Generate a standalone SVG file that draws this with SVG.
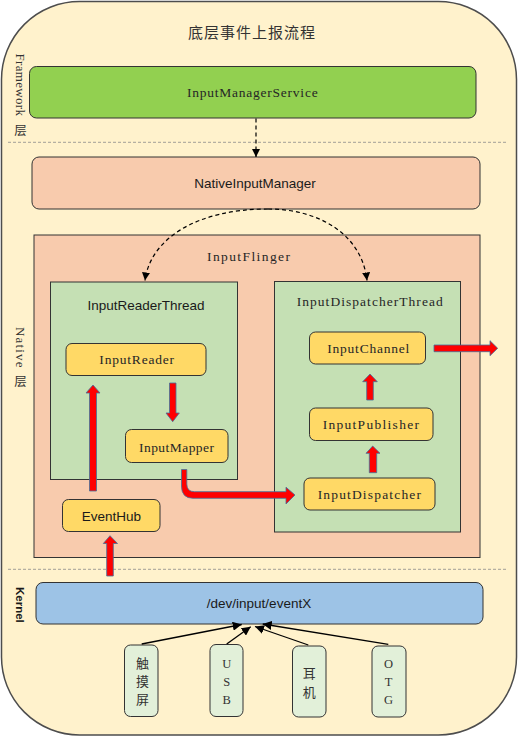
<svg xmlns="http://www.w3.org/2000/svg" width="519" height="739" viewBox="0 0 519 739">
<style>
.box{stroke:#333;stroke-width:1}
.mono{font-family:"Liberation Serif","Times New Roman",serif;font-size:13.5px;fill:#262626;text-anchor:middle}
.sans{font-family:"Liberation Sans",Arial,sans-serif;font-size:13.5px;fill:#1a1a1a;text-anchor:middle}
.cjk{font-family:"Noto Sans CJK SC","Noto Sans",sans-serif;fill:#333;text-anchor:middle}
.ser{font-family:"Liberation Serif","Noto Sans CJK SC",serif;font-size:12.5px;fill:#333;text-anchor:middle}
.sep{stroke:#8c8c8c;stroke-width:0.8;stroke-dasharray:3 2;fill:none}
.dash{stroke:#000;stroke-width:1.2;stroke-dasharray:4 3;fill:none}
.red{fill:#ff0000;stroke:#41719c;stroke-width:0.8}
.line{stroke:#000;stroke-width:1.3;fill:none}
</style>
<defs>
<marker id="ah" viewBox="0 0 10 10" refX="10" refY="5" markerWidth="8" markerHeight="8" markerUnits="userSpaceOnUse" orient="auto">
<path d="M0,0 L10,5 L0,10 Z" fill="#000"/>
</marker>
<marker id="ah2" viewBox="0 0 10 10" refX="10" refY="5" markerWidth="9" markerHeight="9" markerUnits="userSpaceOnUse" orient="auto">
<path d="M0,0 L10,5 L0,10 Z" fill="#000"/>
</marker>
</defs>

<g id="background">
<rect x="1.5" y="1.5" width="515" height="733.5" rx="78" ry="78" fill="#fff2cc" stroke="#4d4d4d" stroke-width="1.5"/>
<text class="cjk" x="252" y="38.2" font-size="15" letter-spacing="1">底层事件上报流程</text>
<line class="sep" x1="8" y1="142.3" x2="508" y2="142.3"/>
<line class="sep" x1="8" y1="569.3" x2="508" y2="569.3"/>
</g>

<g id="layer-labels">
<text transform="translate(16,53.5) rotate(90)" font-family="Liberation Serif,serif" font-size="13" fill="#333" textLength="62.5" lengthAdjust="spacing">Framework</text>
<text class="cjk" x="20.5" y="134.5" font-size="12.5">层</text>
<text transform="translate(16,327) rotate(90)" font-family="Liberation Serif,serif" font-size="13" fill="#333" textLength="40.5" lengthAdjust="spacing">Native</text>
<text class="cjk" x="20.5" y="386" font-size="12.5">层</text>
<text transform="translate(16,587) rotate(90)" font-family="Liberation Sans,Arial,sans-serif" font-size="11.5" font-weight="bold" fill="#1a1a1a">Kernel</text>
</g>

<g id="InputManagerService">
<rect class="box" x="29.5" y="66.5" width="446.5" height="51.5" rx="7" fill="#92d050"/>
<text class="mono" x="252.3" y="96.7" textLength="130.7" lengthAdjust="spacing">InputManagerService</text>
</g>

<g id="NativeInputManager">
<rect class="box" x="32" y="157" width="448" height="52" rx="7" fill="#f8cbad"/>
<text class="sans" x="255" y="188.3">NativeInputManager</text>
</g>

<g id="InputFlinger">
<rect class="box" x="34" y="235" width="446" height="322.5" fill="#f8cbad"/>
<text class="mono" x="248.5" y="261" textLength="83" lengthAdjust="spacing">InputFlinger</text>
</g>

<g id="InputReaderThread">
<rect class="box" x="50.5" y="282" width="187" height="197.5" fill="#c5e0b4"/>
<text class="sans" x="146" y="310">InputReaderThread</text>
</g>

<g id="InputDispatcherThread">
<rect class="box" x="274.5" y="281.5" width="186" height="250.5" fill="#c5e0b4"/>
<text class="mono" x="369.7" y="306" textLength="146" lengthAdjust="spacing">InputDispatcherThread</text>
</g>

<g id="InputReader">
<rect class="box" x="66" y="343.5" width="140" height="32" rx="6" fill="#ffd966"/>
<text class="mono" x="136.7" y="364.3" textLength="74.7" lengthAdjust="spacing">InputReader</text>
</g>

<g id="InputMapper">
<rect class="box" x="125.5" y="429.5" width="102.5" height="33" rx="6" fill="#ffd966"/>
<text class="mono" x="176.5" y="451.5" textLength="75" lengthAdjust="spacing">InputMapper</text>
</g>

<g id="EventHub">
<rect class="box" x="62.5" y="499.5" width="97.5" height="32" rx="6" fill="#ffd966"/>
<text class="sans" x="111.5" y="520.7" font-size="13">EventHub</text>
</g>

<g id="InputChannel">
<rect class="box" x="309.5" y="332" width="116" height="32" rx="6" fill="#ffd966"/>
<text class="mono" x="368.3" y="352.7" textLength="82" lengthAdjust="spacing">InputChannel</text>
</g>

<g id="InputPublisher">
<rect class="box" x="309.5" y="408" width="123.5" height="32.5" rx="6" fill="#ffd966"/>
<text class="mono" x="370.8" y="429.3" textLength="96.3" lengthAdjust="spacing">InputPublisher</text>
</g>

<g id="InputDispatcher">
<rect class="box" x="304" y="478" width="131" height="32" rx="6" fill="#ffd966"/>
<text class="mono" x="369.3" y="499.3" textLength="103.3" lengthAdjust="spacing">InputDispatcher</text>
</g>

<g id="eventX">
<rect class="box" x="36" y="582.5" width="447" height="41.5" rx="7" fill="#9dc3e6"/>
<text class="sans" x="259" y="608.3">/dev/input/eventX</text>
</g>

<g id="touchscreen">
<rect class="box" x="124.5" y="645" width="33.5" height="71.5" rx="6" fill="#e2f0d9"/>
<text class="cjk" x="142.5" y="668" font-size="13">触</text>
<text class="cjk" x="142.5" y="686" font-size="13">摸</text>
<text class="cjk" x="142.5" y="704" font-size="13">屏</text>
</g>

<g id="USB">
<rect class="box" x="210" y="644.5" width="33" height="72" rx="6" fill="#e2f0d9"/>
<text class="ser" x="226.7" y="667.5">U</text>
<text class="ser" x="226.7" y="685.5">S</text>
<text class="ser" x="226.7" y="703.5">B</text>
</g>

<g id="earphone">
<rect class="box" x="292.5" y="646" width="33.5" height="71" rx="6" fill="#e2f0d9"/>
<text class="cjk" x="309.3" y="677.5" font-size="13">耳</text>
<text class="cjk" x="309.3" y="696.5" font-size="13">机</text>
</g>

<g id="OTG">
<rect class="box" x="372" y="646" width="34" height="71" rx="6" fill="#e2f0d9"/>
<text class="ser" x="388.5" y="667.5">O</text>
<text class="ser" x="388.5" y="685.5">T</text>
<text class="ser" x="388.5" y="703.5">G</text>
</g>

<g id="connectors">
<line class="dash" x1="256" y1="118.5" x2="256" y2="157" marker-end="url(#ah)"/>
<path class="dash" d="M268,209 C195,209 150,240 145,280.5" marker-end="url(#ah)"/>
<path class="dash" d="M268,209 C320,209 362,235 367,280.5" marker-end="url(#ah)"/>

<path class="red" d="M89.5,491 L89.5,393 L86,393 L93,385 L100,393 L96.5,393 L96.5,491 Z"/>
<path class="red" d="M169.5,383 L176,383 L176,413 L179.3,413 L172.7,421.7 L166,413 L169.5,413 Z"/>
<path class="red" d="M181.5,469.5 L186.8,469.5 L186.8,484 Q186.8,491.7 194.5,491.7 L286,491.7 L286,487.2 L295,495 L286,504 L286,498.3 L193,498.3 Q181.5,498.3 181.5,486 Z"/>
<path class="red" d="M106.7,576 L106.7,543.5 L103.3,543.5 L110,535.7 L117.5,543.5 L113.3,543.5 L113.3,576 Z"/>
<path class="red" d="M369.3,472.7 L369.3,453.3 L366,453.3 L372.7,446 L380,453.3 L376.7,453.3 L376.7,472.7 Z"/>
<path class="red" d="M366.7,400 L366.7,381.7 L362.7,381.7 L370,374 L377.3,381.7 L373.3,381.7 L373.3,400 Z"/>
<path class="red" d="M434,345 L490,345 L490,340.7 L497.7,348.3 L490,355.7 L490,351.7 L434,351.7 Z"/>

<line class="line" x1="141.7" y1="644" x2="241.7" y2="624.5" marker-end="url(#ah2)"/>
<line class="line" x1="226.7" y1="644" x2="250.7" y2="626.7" marker-end="url(#ah2)"/>
<line class="line" x1="308.3" y1="645" x2="255" y2="626.5" marker-end="url(#ah2)"/>
<line class="line" x1="388.3" y1="644.3" x2="262.7" y2="624" marker-end="url(#ah2)"/>
</g>
</svg>
